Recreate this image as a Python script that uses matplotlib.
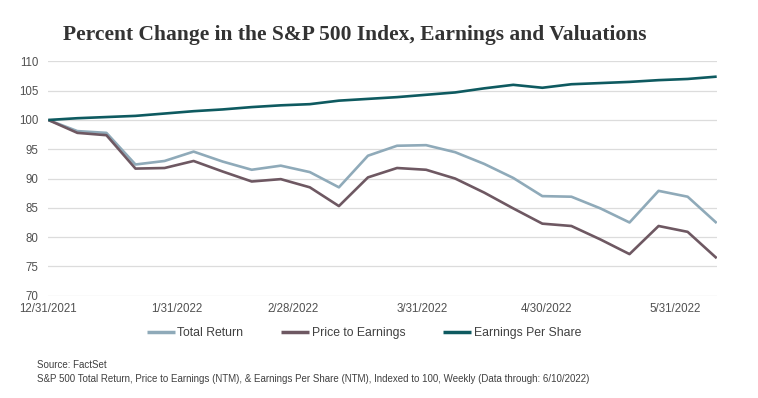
import matplotlib
matplotlib.use("Agg")
import matplotlib.pyplot as plt
import pandas as pd

# ---- data ----
dates = pd.date_range("2021-12-31", periods=24, freq="W-FRI")
total_return = [100, 98.1, 97.8, 92.4, 93.0, 94.6, 92.9, 91.5, 92.2, 91.1, 88.5, 93.9,
                95.6, 95.7, 94.5, 92.5, 90.1, 87.0, 86.9, 84.9, 82.5, 87.9, 86.9, 82.4]
price_to_earnings = [100, 97.8, 97.4, 91.7, 91.8, 93.0, 91.2, 89.5, 89.9, 88.5, 85.3, 90.2,
                     91.8, 91.5, 90.0, 87.6, 84.9, 82.3, 81.9, 79.6, 77.1, 81.9, 80.9, 76.4]
earnings_per_share = [100, 100.3, 100.5, 100.7, 101.1, 101.5, 101.8, 102.2, 102.5, 102.7, 103.3, 103.6,
                      103.9, 104.3, 104.7, 105.4, 106.0, 105.5, 106.1, 106.3, 106.5, 106.8, 107.0, 107.4]
series_names = ["Total Return", "Price to Earnings", "Earnings Per Share"]
x_tick_dates = ["2021-12-31", "2022-01-31", "2022-02-28", "2022-03-31", "2022-04-30", "2022-05-31"]
x_tick_labels = ["12/31/2021", "1/31/2022", "2/28/2022", "3/31/2022", "4/30/2022", "5/31/2022"]
y_ticks = [70, 75, 80, 85, 90, 95, 100, 105, 110]
title = "Percent Change in the S&P 500 Index, Earnings and Valuations"
source_lines = ["Source: FactSet",
                "S&P 500 Total Return, Price to Earnings (NTM), & Earnings Per Share (NTM), Indexed to 100, Weekly (Data through: 6/10/2022)"]

colors = ["#8FAAB9", "#6E5862", "#0E5A60"]
sans = ["Liberation Sans", "DejaVu Sans"]
tick_color = "#505050"

fig = plt.figure(figsize=(7.58, 3.98), dpi=100)
ax = fig.add_axes([48.3 / 758, 1 - 295.7 / 398, (716.7 - 48.3) / 758, (295.7 - 61.4) / 398])

for vals, name, c in zip([total_return, price_to_earnings, earnings_per_share], series_names, colors):
    ax.plot(dates, vals, color=c, lw=1.9, label=name, solid_joinstyle="round", solid_capstyle="butt")

ax.set_ylim(70, 110)
ax.set_xlim(dates[0], dates[-1])
ax.set_yticks(y_ticks)
ax.set_yticklabels([str(v) for v in y_ticks], family=sans, fontsize=8.3, color=tick_color)
ax.set_xticks(pd.to_datetime(x_tick_dates))
ax.set_xticklabels(x_tick_labels, family=sans, fontsize=8.3, color=tick_color)
ax.tick_params(axis="both", length=0)
ax.tick_params(axis="y", pad=7)
ax.tick_params(axis="x", pad=5)
ax.grid(axis="y", color="#DCDCDC", lw=0.9)
ax.set_axisbelow(True)
for s in ax.spines.values():
    s.set_visible(False)

fig.text(63 / 758, 1 - 35 / 398, title, family=["Liberation Serif", "DejaVu Serif"], fontweight="bold",
         fontsize=15.5, color="#333333", va="center", ha="left")

leg = fig.legend(loc="center", bbox_to_anchor=(364 / 758, 1 - 333 / 398), ncol=3, frameon=False,
                 prop={"family": sans, "size": 8.8}, handlelength=2.3, handletextpad=0.2,
                 columnspacing=3.1)
for t in leg.get_texts():
    t.set_color("#404040")
for h in leg.get_lines():
    h.set_linewidth(2.5)

fig.text(37 / 758, 1 - 365 / 398, source_lines[0], family=sans, fontsize=7.0, color="#404040",
         va="center", ha="left")
fig.text(37 / 758, 1 - 379 / 398, source_lines[1], family=sans, fontsize=7.0, color="#404040",
         va="center", ha="left")

fig.savefig("out.png", dpi=100, facecolor="white")
